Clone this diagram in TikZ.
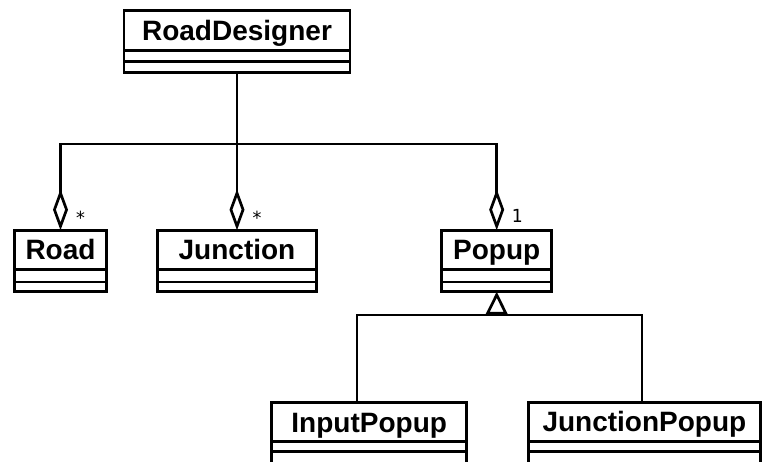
\documentclass[tikz,border=0pt]{standalone}
\usepackage{fontspec}
\setmainfont{Liberation Sans}
\newfontfamily\multfont{DejaVu Sans Mono}
\usetikzlibrary{arrows.meta}
\begin{document}
\begin{tikzpicture}[x=1pt,y=-1pt,
  line width=2.7pt,
  cls/.style={draw, rectangle, inner sep=0pt, outer sep=0pt, minimum width=#1,
    font=\fontsize{28}{28}\selectfont\bfseries, text height=20pt, text depth=0pt, anchor=north},
  comp/.style={draw, rectangle, inner sep=0pt, outer sep=0pt, minimum width=#1, anchor=north},
  agg/.style={-{Diamond[open,length=41pt,width=15pt]}},
  gen/.style={-{Triangle[open,length=23pt,width=22pt]}},
  mult/.style={font=\multfont\fontsize{18}{18}\selectfont, anchor=base, inner sep=0pt},
]
\useasboundingbox (0,0) rectangle (763,462);
\clip (0,0) rectangle (763,462);

% RoadDesigner
\node[cls=226, minimum height=40.5] (rd) at (237,10.2) {RoadDesigner};
\node[comp=226, minimum height=11] (rd1) at (rd.south) {};
\node[comp=226, minimum height=11] (rd2) at (rd1.south) {};

% Road
\node[cls=91.5, minimum height=39.3] (road) at (60.5,230.2) {Road};
\node[comp=91.5, minimum height=12.5] (road1) at (road.south) {};
\node[comp=91.5, minimum height=9.7] (road2) at (road1.south) {};

% Junction
\node[cls=159, minimum height=39.3] (junc) at (237,230.2) {Junction};
\node[comp=159, minimum height=12.5] (junc1) at (junc.south) {};
\node[comp=159, minimum height=9.7] (junc2) at (junc1.south) {};

% Popup
\node[cls=110, minimum height=39.3] (pop) at (496.7,230.2) {Popup};
\node[comp=110, minimum height=12.5] (pop1) at (pop.south) {};
\node[comp=110, minimum height=9.7] (pop2) at (pop1.south) {};

% InputPopup
\node[cls=195, minimum height=39] (ip) at (369.2,402.7) {InputPopup};
\node[comp=195, minimum height=10] (ip1) at (ip.south) {};
\node[comp=195, minimum height=14] (ip2) at (ip1.south) {};

% JunctionPopup
\node[cls=232, minimum height=39] (jp) at (644.4,402.2) {JunctionPopup};
\node[comp=232, minimum height=10.5] (jp1) at (jp.south) {};
\node[comp=232, minimum height=14] (jp2) at (jp1.south) {};

% aggregations
\coordinate (j1) at (237,144);
\draw (rd2.south) -- (j1);
\draw[agg] (j1) -| (road.north);
\draw[agg] (j1) -- (junc.north);
\draw[agg] (j1) -| (pop.north);

\node[mult] (m1) at (80.5,224.5) {*};
\node[mult] (m2) at (257,224.5) {*};
\node[mult] (m3) at (517,223) {1};

% generalization
\coordinate (hb) at (496.7,315);
\coordinate (hl) at (357,315);
\coordinate (hr) at (642,315);
\coordinate (ipc) at (357,402.7);
\coordinate (jpc) at (642,402.2);
\draw (ipc) -- (hl) -- (hr) -- (jpc);
\draw[gen] (hb) -- (pop2.south);
\end{tikzpicture}
\end{document}
